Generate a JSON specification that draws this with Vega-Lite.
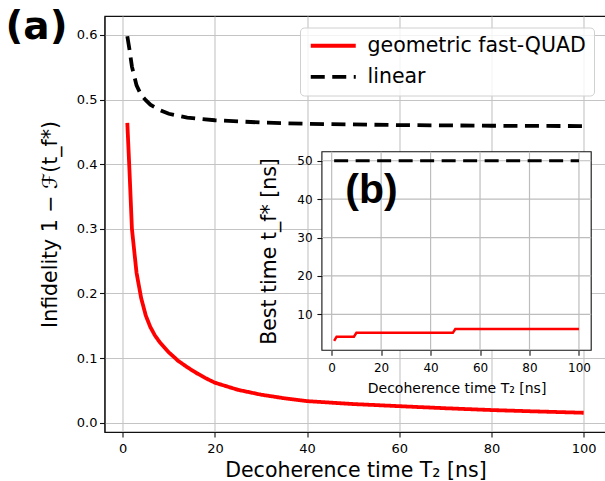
{
  "$schema": "https://vega.github.io/schema/vega-lite/v6.json",
  "width": 502,
  "height": 416,
  "autosize": {"type": "none"},
  "padding": {"left": 104.5, "top": 16, "right": 0, "bottom": 49},
  "background": "white",
  "config": {
    "view": {"stroke": "#111", "strokeWidth": 1.1},
    "font": "DejaVu Sans",
    "axis": {
      "labelFont": "DejaVu Sans", "titleFont": "DejaVu Sans",
      "labelColor": "#000", "titleColor": "#000", "titleFontWeight": "normal",
      "tickColor": "#111", "domainColor": "#111", "domainWidth": 1.1, "tickWidth": 1.1,
      "gridColor": "#c4c4c4", "gridWidth": 1.1, "labelFlush": false, "labelOverlap": false
    }
  },
  "datasets": {
    "main": [
      {"T2": 1, "infidelity": 0.464, "series": "geometric fast-QUAD"},
      {"T2": 1.5, "infidelity": 0.385, "series": "geometric fast-QUAD"},
      {"T2": 2, "infidelity": 0.300, "series": "geometric fast-QUAD"},
      {"T2": 3, "infidelity": 0.232, "series": "geometric fast-QUAD"},
      {"T2": 4, "infidelity": 0.193, "series": "geometric fast-QUAD"},
      {"T2": 5, "infidelity": 0.166, "series": "geometric fast-QUAD"},
      {"T2": 6, "infidelity": 0.148, "series": "geometric fast-QUAD"},
      {"T2": 7, "infidelity": 0.135, "series": "geometric fast-QUAD"},
      {"T2": 8, "infidelity": 0.125, "series": "geometric fast-QUAD"},
      {"T2": 10, "infidelity": 0.109, "series": "geometric fast-QUAD"},
      {"T2": 12, "infidelity": 0.096, "series": "geometric fast-QUAD"},
      {"T2": 14, "infidelity": 0.086, "series": "geometric fast-QUAD"},
      {"T2": 16, "infidelity": 0.077, "series": "geometric fast-QUAD"},
      {"T2": 18, "infidelity": 0.069, "series": "geometric fast-QUAD"},
      {"T2": 20, "infidelity": 0.062, "series": "geometric fast-QUAD"},
      {"T2": 25, "infidelity": 0.051, "series": "geometric fast-QUAD"},
      {"T2": 30, "infidelity": 0.0435, "series": "geometric fast-QUAD"},
      {"T2": 35, "infidelity": 0.038, "series": "geometric fast-QUAD"},
      {"T2": 40, "infidelity": 0.0335, "series": "geometric fast-QUAD"},
      {"T2": 50, "infidelity": 0.029, "series": "geometric fast-QUAD"},
      {"T2": 60, "infidelity": 0.0257, "series": "geometric fast-QUAD"},
      {"T2": 70, "infidelity": 0.0225, "series": "geometric fast-QUAD"},
      {"T2": 80, "infidelity": 0.0197, "series": "geometric fast-QUAD"},
      {"T2": 90, "infidelity": 0.0175, "series": "geometric fast-QUAD"},
      {"T2": 100, "infidelity": 0.0155, "series": "geometric fast-QUAD"},
      {"T2": 1, "infidelity": 0.598, "series": "linear"},
      {"T2": 1.5, "infidelity": 0.576, "series": "linear"},
      {"T2": 2, "infidelity": 0.551, "series": "linear"},
      {"T2": 3, "infidelity": 0.522, "series": "linear"},
      {"T2": 4, "infidelity": 0.507, "series": "linear"},
      {"T2": 5, "infidelity": 0.499, "series": "linear"},
      {"T2": 6, "infidelity": 0.492, "series": "linear"},
      {"T2": 8, "infidelity": 0.484, "series": "linear"},
      {"T2": 10, "infidelity": 0.478, "series": "linear"},
      {"T2": 14, "infidelity": 0.472, "series": "linear"},
      {"T2": 20, "infidelity": 0.468, "series": "linear"},
      {"T2": 30, "infidelity": 0.4645, "series": "linear"},
      {"T2": 40, "infidelity": 0.4625, "series": "linear"},
      {"T2": 60, "infidelity": 0.4605, "series": "linear"},
      {"T2": 80, "infidelity": 0.4595, "series": "linear"},
      {"T2": 100, "infidelity": 0.459, "series": "linear"}
    ],
    "inset": [
      {"T2": 1, "best_time": 3.1, "series": "geometric fast-QUAD"},
      {"T2": 2, "best_time": 4.2, "series": "geometric fast-QUAD"},
      {"T2": 9, "best_time": 4.2, "series": "geometric fast-QUAD"},
      {"T2": 10, "best_time": 5.2, "series": "geometric fast-QUAD"},
      {"T2": 49, "best_time": 5.2, "series": "geometric fast-QUAD"},
      {"T2": 50, "best_time": 6.2, "series": "geometric fast-QUAD"},
      {"T2": 100, "best_time": 6.2, "series": "geometric fast-QUAD"},
      {"T2": 1, "best_time": 50, "series": "linear"},
      {"T2": 100, "best_time": 50, "series": "linear"}
    ]
  },
  "layer": [
    {
      "layer": [
        {
          "data": {"name": "main"},
          "mark": {"type": "line", "strokeWidth": 3.8},
          "encoding": {
            "x": {"field": "T2", "type": "quantitative",
              "scale": {"domain": [-3.95, 104.95], "nice": false, "zero": false},
              "axis": {"values": [0, 20, 40, 60, 80, 100], "title": "Decoherence time T₂ [ns]", "titleFontSize": 20.5, "titleBaseline": "alphabetic", "titleY": 44.8, "labelFontSize": 13, "labelPadding": 5.5, "tickSize": 5, "grid": true}},
            "y": {"field": "infidelity", "type": "quantitative",
              "scale": {"domain": [-0.01425, 0.62925], "nice": false, "zero": false},
              "axis": {"values": [0, 0.1, 0.2, 0.3, 0.4, 0.5, 0.6], "format": ".1f", "title": "Infidelity 1 − ℱ(t_f*)", "titleFontSize": 20.5, "titleBaseline": "alphabetic", "titleX": -47.8, "labelFontSize": 13, "labelPadding": 2.5, "tickSize": 5, "grid": true}},
            "color": {"field": "series", "type": "nominal",
              "scale": {"domain": ["geometric fast-QUAD", "linear"], "range": ["#ff0000", "#000000"]},
              "legend": {"orient": "none", "legendX": 195.5, "legendY": 11.5, "title": null, "symbolType": "M-1,0H5", "symbolSize": 225, "symbolStrokeWidth": 3.8, "labelFontSize": 20.5, "labelFont": "DejaVu Sans", "labelColor": "#000", "padding": 8, "rowPadding": 10.2, "labelOffset": 39, "fillColor": "rgba(255,255,255,0.8)", "strokeColor": "#d0d0d0", "cornerRadius": 4, "labelLimit": 400}},
            "strokeDash": {"field": "series", "type": "nominal",
              "scale": {"domain": ["geometric fast-QUAD", "linear"], "range": [[1, 0], [14, 7.5]]},
              "legend": {"orient": "none", "legendX": 195.5, "legendY": 11.5, "title": null, "symbolType": "M-1,0H5", "symbolSize": 225, "symbolStrokeWidth": 3.8, "labelFontSize": 20.5, "labelFont": "DejaVu Sans", "labelColor": "#000", "padding": 8, "rowPadding": 10.2, "labelOffset": 39, "fillColor": "rgba(255,255,255,0.8)", "strokeColor": "#d0d0d0", "cornerRadius": 4, "labelLimit": 400}}
          }
        },
        {
          "data": {"values": [{"label": "(a)"}]},
          "mark": {"type": "text", "font": "DejaVu Sans", "fontWeight": "bold", "fontSize": 39, "align": "center", "baseline": "alphabetic", "color": "#000"},
          "encoding": {
            "x": {"datum": -18.7, "type": "quantitative",
              "scale": {"domain": [-3.95, 104.95], "nice": false, "zero": false},
              "axis": {"values": [0, 20, 40, 60, 80, 100], "title": "Decoherence time T₂ [ns]", "titleFontSize": 20.5, "titleBaseline": "alphabetic", "titleY": 44.8, "labelFontSize": 13, "labelPadding": 5.5, "tickSize": 5, "grid": true}},
            "y": {"datum": 0.594, "type": "quantitative",
              "scale": {"domain": [-0.01425, 0.62925], "nice": false, "zero": false},
              "axis": {"values": [0, 0.1, 0.2, 0.3, 0.4, 0.5, 0.6], "format": ".1f", "title": "Infidelity 1 − ℱ(t_f*)", "titleFontSize": 20.5, "titleBaseline": "alphabetic", "titleX": -47.8, "labelFontSize": 13, "labelPadding": 2.5, "tickSize": 5, "grid": true}},
            "text": {"field": "label"}
          }
        }
      ]
    },
    {
      "data": {"values": [{}]},
      "layer": [
        {
          "mark": {"type": "rect", "fill": "white", "stroke": "#111", "strokeWidth": 1.1},
          "encoding": {
            "x": {"datum": -3.95, "type": "quantitative", "axis": null,
              "scale": {"domain": [-3.95, 104.95], "range": [217.4, 486.7], "nice": false, "zero": false}},
            "x2": {"datum": 104.95},
            "y": {"datum": 0.65, "type": "quantitative", "axis": null,
              "scale": {"domain": [0.65, 52.35], "range": [334.3, 135.7], "nice": false, "zero": false}},
            "y2": {"datum": 52.35}
          }
        },
        {
          "encoding": {
            "y": {"datum": 0.65, "type": "quantitative", "axis": null},
            "y2": {"datum": 52.35}
          },
          "layer": [
            {"mark": {"type": "rule", "color": "#bdbdbd", "strokeWidth": 1.2}, "encoding": {"x": {"datum": 0, "type": "quantitative", "axis": null}}},
            {"mark": {"type": "rule", "color": "#bdbdbd", "strokeWidth": 1.2}, "encoding": {"x": {"datum": 20, "type": "quantitative", "axis": null}}},
            {"mark": {"type": "rule", "color": "#bdbdbd", "strokeWidth": 1.2}, "encoding": {"x": {"datum": 40, "type": "quantitative", "axis": null}}},
            {"mark": {"type": "rule", "color": "#bdbdbd", "strokeWidth": 1.2}, "encoding": {"x": {"datum": 60, "type": "quantitative", "axis": null}}},
            {"mark": {"type": "rule", "color": "#bdbdbd", "strokeWidth": 1.2}, "encoding": {"x": {"datum": 80, "type": "quantitative", "axis": null}}},
            {"mark": {"type": "rule", "color": "#bdbdbd", "strokeWidth": 1.2}, "encoding": {"x": {"datum": 100, "type": "quantitative", "axis": null}}}
          ]
        },
        {
          "encoding": {
            "x": {"datum": -3.95, "type": "quantitative", "axis": null},
            "x2": {"datum": 104.95}
          },
          "layer": [
            {"mark": {"type": "rule", "color": "#bdbdbd", "strokeWidth": 1.2}, "encoding": {"y": {"datum": 10, "type": "quantitative", "axis": null}}},
            {"mark": {"type": "rule", "color": "#bdbdbd", "strokeWidth": 1.2}, "encoding": {"y": {"datum": 20, "type": "quantitative", "axis": null}}},
            {"mark": {"type": "rule", "color": "#bdbdbd", "strokeWidth": 1.2}, "encoding": {"y": {"datum": 30, "type": "quantitative", "axis": null}}},
            {"mark": {"type": "rule", "color": "#bdbdbd", "strokeWidth": 1.2}, "encoding": {"y": {"datum": 40, "type": "quantitative", "axis": null}}},
            {"mark": {"type": "rule", "color": "#bdbdbd", "strokeWidth": 1.2}, "encoding": {"y": {"datum": 50, "type": "quantitative", "axis": null}}}
          ]
        }
      ]
    },
    {
      "layer": [
        {
          "data": {"name": "inset"},
          "transform": [{"filter": "datum.series === 'geometric fast-QUAD'"}],
          "mark": {"type": "line", "strokeWidth": 2.5, "color": "#ff0000"},
          "encoding": {
            "x": {"field": "T2", "type": "quantitative",
              "scale": {"domain": [-3.95, 104.95], "range": [217.4, 486.7], "nice": false, "zero": false},
              "axis": {"orient": "bottom", "offset": -81.7, "values": [0, 20, 40, 60, 80, 100], "title": "Decoherence time T₂ [ns]", "titleFontSize": 14, "titleBaseline": "alphabetic", "titleY": 42.4, "labelFontSize": 12, "labelPadding": 7.3, "tickSize": 5, "grid": false, "domain": false, "zindex": 2}},
            "y": {"field": "best_time", "type": "quantitative",
              "scale": {"domain": [0.65, 52.35], "range": [334.3, 135.7], "nice": false, "zero": false},
              "axis": {"orient": "left", "offset": -217.4, "values": [10, 20, 30, 40, 50], "title": "Best time t_f* [ns]", "titleFontSize": 20.5, "titleBaseline": "alphabetic", "titleX": -46, "labelFontSize": 12, "labelPadding": 4.8, "tickSize": 5, "grid": false, "domain": false, "zindex": 2}}
          }
        },
        {
          "data": {"name": "inset"},
          "transform": [{"filter": "datum.series === 'linear'"}],
          "mark": {"type": "line", "strokeWidth": 3, "color": "#000000", "strokeDash": [14, 7.5]},
          "encoding": {
            "x": {"field": "T2", "type": "quantitative",
              "scale": {"domain": [-3.95, 104.95], "range": [217.4, 486.7], "nice": false, "zero": false},
              "axis": {"orient": "bottom", "offset": -81.7, "values": [0, 20, 40, 60, 80, 100], "title": "Decoherence time T₂ [ns]", "titleFontSize": 14, "titleBaseline": "alphabetic", "titleY": 42.4, "labelFontSize": 12, "labelPadding": 7.3, "tickSize": 5, "grid": false, "domain": false, "zindex": 2}},
            "y": {"field": "best_time", "type": "quantitative",
              "scale": {"domain": [0.65, 52.35], "range": [334.3, 135.7], "nice": false, "zero": false},
              "axis": {"orient": "left", "offset": -217.4, "values": [10, 20, 30, 40, 50], "title": "Best time t_f* [ns]", "titleFontSize": 20.5, "titleBaseline": "alphabetic", "titleX": -46, "labelFontSize": 12, "labelPadding": 4.8, "tickSize": 5, "grid": false, "domain": false, "zindex": 2}}
          }
        },
        {
          "data": {"values": [{"label": "(b)"}]},
          "mark": {"type": "text", "font": "Liberation Sans", "fontWeight": "bold", "fontSize": 41, "align": "center", "baseline": "alphabetic", "color": "#000"},
          "encoding": {
            "x": {"datum": 16.1, "type": "quantitative",
              "scale": {"domain": [-3.95, 104.95], "range": [217.4, 486.7], "nice": false, "zero": false},
              "axis": {"orient": "bottom", "offset": -81.7, "values": [0, 20, 40, 60, 80, 100], "title": "Decoherence time T₂ [ns]", "titleFontSize": 14, "titleBaseline": "alphabetic", "titleY": 42.4, "labelFontSize": 12, "labelPadding": 7.3, "tickSize": 5, "grid": false, "domain": false, "zindex": 2}},
            "y": {"datum": 38.96, "type": "quantitative",
              "scale": {"domain": [0.65, 52.35], "range": [334.3, 135.7], "nice": false, "zero": false},
              "axis": {"orient": "left", "offset": -217.4, "values": [10, 20, 30, 40, 50], "title": "Best time t_f* [ns]", "titleFontSize": 20.5, "titleBaseline": "alphabetic", "titleX": -46, "labelFontSize": 12, "labelPadding": 4.8, "tickSize": 5, "grid": false, "domain": false, "zindex": 2}},
            "text": {"field": "label"}
          }
        }
      ]
    }
  ],
  "resolve": {"scale": {"x": "independent", "y": "independent"}}
}
